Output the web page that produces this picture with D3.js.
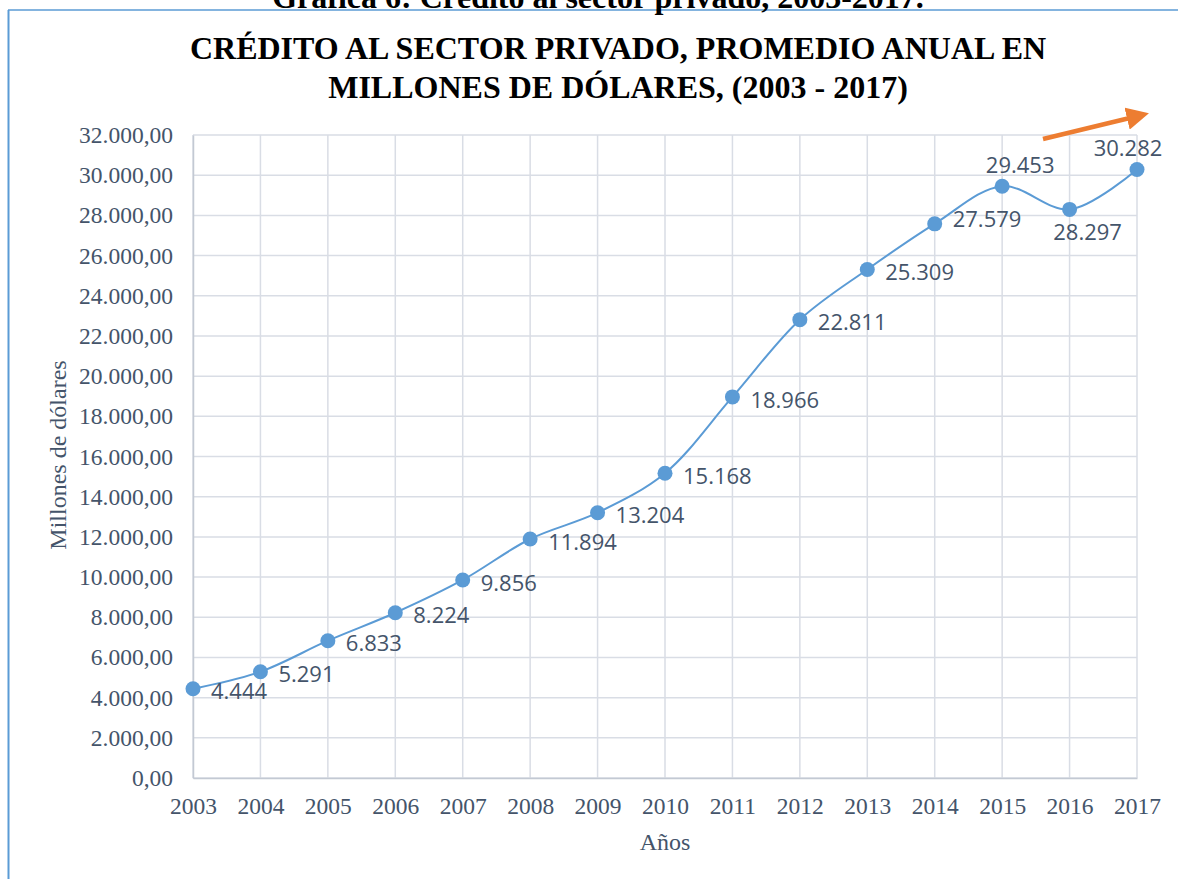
<!DOCTYPE html>
<html>
<head>
  <meta charset="utf-8">
  <title>Crédito al sector privado</title>
  <script src="https://d3js.org/d3.v7.min.js"></script>
  <style>
    body { margin: 0; background: #fff; }
    svg { display: block; }
  </style>
</head>
<body>
  <div id="chart"></div>
  <script>
    // data
    var years = [2003, 2004, 2005, 2006, 2007, 2008, 2009, 2010, 2011, 2012, 2013, 2014, 2015, 2016, 2017];
    var credito = [4444, 5291, 6833, 8224, 9856, 11894, 13204, 15168, 18966, 22811, 25309, 27579, 29453, 28297, 30282];
    var yTicks = [0, 2000, 4000, 6000, 8000, 10000, 12000, 14000, 16000, 18000, 20000, 22000, 24000, 26000, 28000, 30000, 32000];
    var labelSide = ["right", "right", "right", "right", "right", "right", "right", "right", "right", "right", "right", "right", "above", "below", "above"];

    var data = years.map((y, i) => ({ year: y, value: credito[i], side: labelSide[i] }));

    var W = 1178, H = 879;
    var margin = { top: 135, right: 41, bottom: 101, left: 193 };

    var locale = d3.formatLocale({ decimal: ",", thousands: ".", grouping: [3], currency: ["$", ""] });
    var fmtTick = locale.format(",.2f");
    var fmtLabel = locale.format(",.0f");

    var serif = "'Liberation Serif', 'Times New Roman', serif";

    var svg = d3.select("#chart").append("svg")
                .attr("width", W)
                .attr("height", H);

    // frame of the chart (left and top edges visible)
    svg.append("line").attr("x1", 8.5).attr("x2", 8.5).attr("y1", 10).attr("y2", H)
       .attr("stroke", "#5b9bd5").attr("stroke-width", 2);
    svg.append("line").attr("x1", 8).attr("x2", W).attr("y1", 10).attr("y2", 10)
       .attr("stroke", "#5b9bd5").attr("stroke-width", 1.5);

    // caption, cut off at the top of the page like in the source
    svg.append("text")
       .attr("x", 598).attr("y", 8)
       .attr("text-anchor", "middle")
       .style("font", "bold 32px " + serif)
       .attr("fill", "#000")
       .text("Gráfica 6: Crédito al sector privado, 2003-2017.");

    // title
    var title = svg.append("text")
       .attr("text-anchor", "middle")
       .style("font", "bold 32px " + serif)
       .attr("fill", "#000");
    title.append("tspan").attr("x", 618).attr("y", 59).text("CRÉDITO AL SECTOR PRIVADO, PROMEDIO ANUAL EN");
    title.append("tspan").attr("x", 618).attr("y", 98).text("MILLONES DE DÓLARES, (2003 - 2017)");

    var x = d3.scalePoint()
              .domain(years)
              .range([margin.left, W - margin.right]);

    var y = d3.scaleLinear()
              .domain([0, 32000])
              .range([H - margin.bottom, margin.top]);

    var gridColor = "#d9dde5";

    // gridlines
    svg.append("g")
       .selectAll("line.h")
       .data(yTicks)
       .enter().append("line")
       .attr("x1", margin.left).attr("x2", W - margin.right)
       .attr("y1", d => y(d)).attr("y2", d => y(d))
       .attr("stroke", gridColor).attr("stroke-width", 1.5);

    svg.append("g")
       .selectAll("line.v")
       .data(years)
       .enter().append("line")
       .attr("x1", d => x(d)).attr("x2", d => x(d))
       .attr("y1", margin.top).attr("y2", H - margin.bottom)
       .attr("stroke", gridColor).attr("stroke-width", 1.5);

    // axes
    var yAxis = svg.append("g")
       .attr("transform", `translate(${margin.left}, 0)`)
       .call(d3.axisLeft(y).tickValues(yTicks).tickFormat(fmtTick).tickSize(0).tickPadding(20));
    yAxis.select(".domain").attr("stroke", "#c3c9d3").attr("stroke-width", 1.5);

    var xAxis = svg.append("g")
       .attr("transform", `translate(0, ${H - margin.bottom})`)
       .call(d3.axisBottom(x).tickSize(0).tickPadding(19));
    xAxis.select(".domain").attr("stroke", "#c3c9d3").attr("stroke-width", 1.5);

    svg.selectAll(".tick text")
       .style("font", "23.5px " + serif)
       .attr("fill", "#44546a");

    // axis titles
    svg.append("text")
       .attr("x", 665).attr("y", 850)
       .attr("text-anchor", "middle")
       .style("font", "24px " + serif)
       .attr("fill", "#44546a")
       .text("Años");

    svg.append("text")
       .attr("transform", "rotate(-90)")
       .attr("x", -455).attr("y", 66)
       .attr("text-anchor", "middle")
       .style("font", "24px " + serif)
       .attr("fill", "#44546a")
       .text("Millones de dólares");

    // smoothed line
    var line = d3.line()
                 .x(d => x(d.year))
                 .y(d => y(d.value))
                 .curve(d3.curveCatmullRom.alpha(0.5));

    svg.append("path")
       .datum(data)
       .attr("fill", "none")
       .attr("stroke", "#5b9bd5")
       .attr("stroke-width", 2)
       .attr("d", line);

    svg.selectAll("circle.pt")
       .data(data)
       .enter().append("circle")
       .attr("class", "pt")
       .attr("r", 7.5)
       .attr("fill", "#5b9bd5")
       .attr("cx", d => x(d.year))
       .attr("cy", d => y(d.value));

    // data labels
    function labelX(d) {
      if (d.side == "right") return x(d.year) + 18;
      if (d.year == 2017) return x(d.year) - 9;
      return x(d.year) + 18;
    }
    function labelY(d) {
      if (d.side == "right") return y(d.value) + (d.year == 2014 ? -5 : 3);
      if (d.side == "above") return y(d.value) - 21;
      return y(d.value) + 23;
    }

    svg.selectAll("text.lbl")
       .data(data)
       .enter().append("text")
       .attr("class", "lbl")
       .attr("x", labelX)
       .attr("y", labelY)
       .attr("dy", "0.35em")
       .attr("text-anchor", d => d.side == "right" ? "start" : "middle")
       .style("font", "22px 'Open Sans', 'Noto Sans', sans-serif")
       .attr("fill", "#44546a")
       .text(d => fmtLabel(d.value));

    // orange arrow at top right
    var defs = svg.append("defs");
    defs.append("marker")
        .attr("id", "arrow")
        .attr("viewBox", "0 0 10 10")
        .attr("refX", 5).attr("refY", 5)
        .attr("markerWidth", 5).attr("markerHeight", 5)
        .attr("orient", "auto")
        .append("path")
        .attr("d", "M0,0 L10,5 L0,10 z")
        .attr("fill", "#ed7d31");

    svg.append("line")
       .attr("x1", 1043).attr("y1", 139)
       .attr("x2", 1138).attr("y2", 116)
       .attr("stroke", "#ed7d31")
       .attr("stroke-width", 4.5)
       .attr("marker-end", "url(#arrow)");
  </script>
</body>
</html>
